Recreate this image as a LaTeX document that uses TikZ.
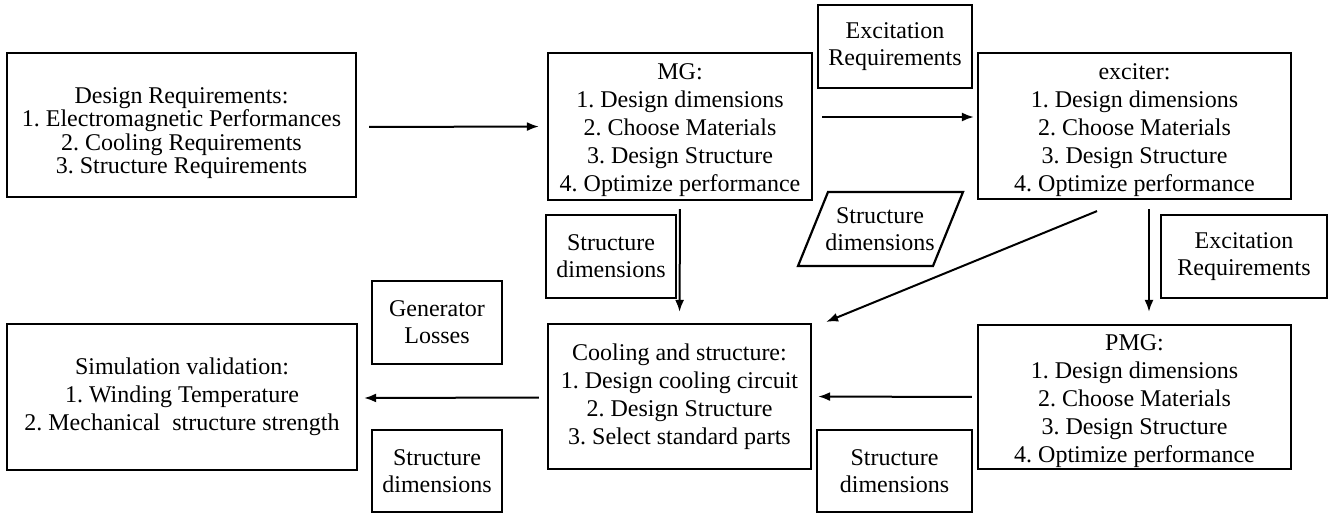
\documentclass[tikz,border=0pt]{standalone}
\usepackage{fontspec}
\setmainfont{Liberation Serif}
\usetikzlibrary{arrows.meta}
\begin{document}
\frenchspacing
\begin{tikzpicture}[x=1pt,y=-1pt,
  box/.style={draw,line width=2.2pt,inner sep=0pt,align=center,
    font=\fontsize{24}{28}\selectfont},
  tight/.style={font=\fontsize{24}{23.3}\selectfont},
  small/.style={font=\fontsize{24}{27}\selectfont},
  plain/.style={inner sep=0pt,align=center,font=\fontsize{24}{27}\selectfont},
  txt/.style={inner sep=0pt,align=center,font=\fontsize{24}{28}\selectfont},
  arr/.style={line width=2pt,-{Latex[length=12pt,width=9pt]}}]
\useasboundingbox (0,0) rectangle (1333,512);
\clip (0,0) rectangle (1333,512);
% main boxes
\node[box,minimum width=349pt,minimum height=144pt] (dr) at (181.5,125) {};
\node[plain,tight] (drt) at (181.5,133)
  {Design Requirements:\\1. Electromagnetic Performances\\2. Cooling Requirements\\3. Structure Requirements};
\node[box,minimum width=264pt,minimum height=147pt] (mg) at (680,126.5) {};
\node[txt] (mgt) at (680,130.5)
  {MG:\\1. Design dimensions\\2. Choose Materials\\3. Design Structure\\4. Optimize performance};
\node[box,minimum width=313pt,minimum height=146pt] (ex) at (1134.5,126) {};
\node[txt] (ext) at (1134.5,130)
  {exciter:\\1. Design dimensions\\2. Choose Materials\\3. Design Structure\\4. Optimize performance};
\node[box,minimum width=263pt,minimum height=145pt] (cool) at (679.5,396.5)
  {Cooling and structure:\\1. Design cooling circuit\\2. Design Structure\\3. Select standard parts};
\node[box,minimum width=313pt,minimum height=144pt] (pmg) at (1134.5,397) {};
\node[txt] (pmgt) at (1134.5,401)
  {PMG:\\1. Design dimensions\\2. Choose Materials\\3. Design Structure\\4. Optimize performance};
\node[box,minimum width=350pt,minimum height=146pt] (sim) at (182,397)
  {Simulation validation:\\1. Winding Temperature\\2. Mechanical\ \ structure strength};
% label boxes
\node[box,small,minimum width=154pt,minimum height=83pt] (er1) at (895,46.5)
  {Excitation\\Requirements};
\node[box,small,minimum width=166pt,minimum height=83pt] (er2) at (1244,256.5)
  {Excitation\\Requirements};
\node[box,small,minimum width=130pt,minimum height=83pt] (sd1) at (611,256.5)
  {Structure\\dimensions};
\node[box,small,minimum width=130pt,minimum height=83pt] (gl) at (437,322.5)
  {Generator\\Losses};
\node[box,small,minimum width=130pt,minimum height=82pt] (sd2) at (437,471)
  {Structure\\dimensions};
\node[box,small,minimum width=155pt,minimum height=82pt] (sd3) at (894.5,471)
  {Structure\\dimensions};
% parallelogram
\node[plain] (sdp) at (880,229) {Structure\\dimensions};
\draw[line width=2.2pt] (798,266) -- (828,192) -- (963,192) -- (933,266) -- cycle;
% connectors
\draw[arr,shorten <=12pt,shorten >=8pt] ([yshift=-2pt]dr.east) -- (mg.west);
\draw[arr,shorten <=9pt,shorten >=3pt] ([yshift=9.5pt]mg.east) -- ([yshift=9pt]ex.west);
\draw[arr,shorten <=8pt,shorten >=11pt] (mg.south) -- (cool.north);
\draw[arr,shorten <=9pt,shorten >=12pt] ([xshift=14.5pt]ex.south) -- ([xshift=14.5pt]pmg.north);
\draw[arr] ([xshift=-37.5pt,yshift=-11pt]ex.south) -- ([xshift=14pt,yshift=1pt]cool.north east);
\draw[arr,shorten <=5pt,shorten >=6pt] (pmg.west) -- (cool.east);
\draw[arr,shorten <=8pt,shorten >=6pt] ([yshift=-1pt]cool.west) -- ([yshift=-1pt]sim.east);
\end{tikzpicture}
\end{document}
